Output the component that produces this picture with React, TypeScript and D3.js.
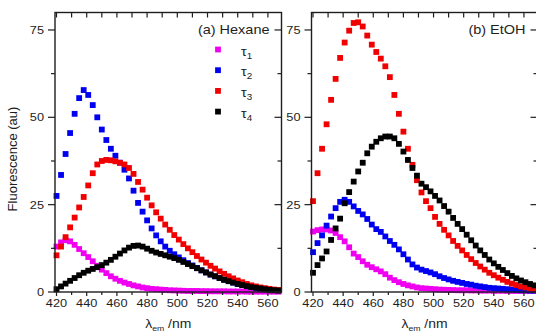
import React from 'react';
import * as d3 from 'd3';

// emission wavelengths (nm), shared by every series
const wavelengths = [420, 423, 426, 429, 432, 435, 438, 441, 444, 447, 450, 453, 456, 459, 462, 465, 468, 471, 474, 477, 480, 483, 486, 489, 492, 495, 498, 501, 504, 507, 510, 513, 516, 519, 522, 525, 528, 531, 534, 537, 540, 543, 546, 549, 552, 555, 558, 561, 564, 567];

// (a) Hexane
const hexaneTau1 = [13, 14.2, 14.8, 14.5, 13.5, 12.3, 11.1, 10, 8.8, 7.5, 6.4, 5.4, 4.5, 3.8, 3.2, 2.7, 2.3, 1.9, 1.6, 1.3, 1.1, 0.9, 0.8, 0.7, 0.6, 0.5, 0.45, 0.4, 0.35, 0.3, 0.3, 0.3, 0.25, 0.25, 0.2, 0.2, 0.2, 0.2, 0.15, 0.15, 0.15, 0.15, 0.1, 0.1, 0.1, 0.1, 0.1, 0.1, 0.1, 0.1];
const hexaneTau2 = [27.5, 33.5, 39.5, 45.5, 51, 55.5, 57.8, 56.4, 53.5, 50, 46.5, 43.5, 41, 39, 37, 35, 32.5, 29, 25.5, 23, 20.5, 18.2, 16.2, 14.5, 13, 11.8, 10.8, 9.9, 9.1, 8.3, 7.6, 6.9, 6.2, 5.6, 5, 4.5, 4, 3.5, 3.1, 2.7, 2.3, 2, 1.7, 1.4, 1.2, 1, 0.8, 0.7, 0.6, 0.5];
const hexaneTau3 = [10.5, 13, 15.7, 18.5, 21.3, 24.2, 27.2, 30.5, 34, 36.5, 37.5, 37.8, 37.7, 37.4, 37, 36.5, 35.5, 33.8, 31.5, 29.3, 27, 24.8, 22.8, 21, 19.3, 17.8, 16.3, 15, 13.7, 12.5, 11.4, 10.3, 9.3, 8.4, 7.5, 6.7, 5.9, 5.2, 4.5, 3.9, 3.3, 2.8, 2.3, 1.9, 1.6, 1.3, 1.1, 0.9, 0.7, 0.6];
const hexaneTau4 = [0.8, 1.6, 2.4, 3.2, 4, 4.8, 5.5, 6.1, 6.6, 7.1, 7.7, 8.4, 9.2, 10.1, 11, 11.9, 12.7, 13.2, 13.3, 13, 12.4, 11.8, 11.3, 10.9, 10.5, 10.1, 9.7, 9.2, 8.6, 8, 7.4, 6.8, 6.2, 5.6, 5, 4.5, 4, 3.5, 3.1, 2.7, 2.3, 2, 1.7, 1.4, 1.2, 1, 0.8, 0.6, 0.5, 0.4];

// (b) EtOH
const etohTau1 = [17.3, 17.7, 17.9, 17.9, 17.6, 16.9, 15.7, 14.5, 12.8, 11, 10, 8.8, 7.8, 7.1, 6.5, 5.9, 5.1, 4.1, 3.4, 2.8, 2.3, 1.9, 1.6, 1.3, 1.1, 1, 0.9, 0.8, 0.7, 0.65, 0.6, 0.55, 0.5, 0.5, 0.5, 0.45, 0.45, 0.4, 0.4, 0.4, 0.35, 0.35, 0.35, 0.3, 0.3, 0.3, 0.3, 0.3, 0.3, 0.3];
const etohTau2 = [11.4, 14, 16.2, 19, 21.6, 24, 25.8, 26.4, 25.8, 24.5, 23.2, 22.2, 20.9, 19.3, 18, 17.2, 15.9, 14.6, 13.5, 12.2, 10.8, 9.3, 7.9, 7, 6.4, 6, 5.6, 5.1, 4.5, 4, 3.6, 3.2, 2.9, 2.6, 2.3, 2.1, 1.8, 1.6, 1.4, 1.2, 1.1, 1, 0.9, 0.8, 0.7, 0.6, 0.5, 0.5, 0.4, 0.4];
const etohTau3 = [26, 34, 41, 48, 55, 61, 67, 71.4, 74.8, 77, 77.2, 76, 73.4, 70.8, 68.7, 66.8, 64.6, 61.5, 56.4, 51, 45.9, 41, 36.4, 32, 28.5, 26, 24, 21.5, 19.5, 17.8, 16.2, 14.6, 13.2, 11.9, 10.6, 9.4, 8.3, 7.3, 6.4, 5.5, 4.8, 4.1, 3.5, 2.9, 2.4, 2, 1.6, 1.3, 1, 0.8];
const etohTau4 = [5.5, 7.7, 9.6, 11.6, 14.9, 18.2, 21, 25.4, 28.6, 31.6, 34.5, 37, 39.7, 41.6, 43, 44, 44.5, 44.5, 44, 42.4, 40.2, 37.8, 35.5, 33.3, 31, 30, 28.8, 27.5, 26.2, 24.6, 23, 21.2, 19.5, 18, 16.4, 14.8, 13.3, 11.9, 10.6, 9.3, 8.2, 7.2, 6.3, 5.4, 4.6, 3.9, 3.3, 2.8, 2.3, 1.9];

const legendSubs = ['1', '2', '3', '4'];
const seriesColors = ['#f000f0', '#0000f0', '#f00000', '#000000'];

const xMajorTicks = [420, 440, 460, 480, 500, 520, 540, 560];
const xMinorTicks = [430, 450, 470, 490, 510, 530, 550];
const yMajorTicks = [0, 25, 50, 75];
const yMinorTicks = [12.5, 37.5, 62.5];

const FONT = '"Liberation Sans", Arial, sans-serif';
const INK = '#1e1e1e';
const SX = 1.16; // the source text is slightly wide

const T = ({ x, y, size, anchor = 'start', children }: any) => (
  <text
    transform={`translate(${x},${y}) scale(${SX},1)`}
    fontSize={size}
    textAnchor={anchor}
    fontFamily={FONT}
    fill={INK}
  >
    {children}
  </text>
);

const TOP = 12.5;
const BOTTOM = 292;

function Panel({ left, right, title, series, legend }: any) {
  const x = d3.scaleLinear().domain([419, 569]).range([left, right]);
  const y = d3.scaleLinear().domain([0, 80]).range([BOTTOM, TOP]);
  const ms = 5.8;
  const cx = (left + right) / 2;

  return (
    <g>
      {/* markers */}
      {series.map((vals: number[], si: number) => (
        <g key={si} fill={seriesColors[si]}>
          {vals.map((v, i) => (
            <rect key={i} x={x(wavelengths[i]) - ms / 2} y={y(v) - ms / 2} width={ms} height={ms} />
          ))}
        </g>
      ))}

      {/* frame */}
      <rect x={left} y={TOP} width={right - left} height={BOTTOM - TOP} fill="none" stroke={INK} strokeWidth={1.4} />

      {/* x ticks: top inward, bottom outward */}
      {[...xMajorTicks, ...xMinorTicks].map(t => (
        <g key={'xt' + t} stroke={INK} strokeWidth={1.2}>
          <line x1={x(t)} x2={x(t)} y1={TOP} y2={TOP + 5} />
          <line x1={x(t)} x2={x(t)} y1={BOTTOM} y2={BOTTOM + (xMajorTicks.includes(t) ? 4 : 3)} />
        </g>
      ))}
      {xMajorTicks.map(t => (
        <T key={'xl' + t} x={x(t)} y={307} size={11} anchor="middle">{t}</T>
      ))}

      {/* y ticks: left outward, right inward */}
      {yMajorTicks.map(t => (
        <g key={'ym' + t} stroke={INK} strokeWidth={1.2}>
          <line x1={left - 7} x2={left} y1={y(t)} y2={y(t)} />
          <line x1={right - 7} x2={right} y1={y(t)} y2={y(t)} />
        </g>
      ))}
      {yMinorTicks.map(t => (
        <g key={'yn' + t} stroke={INK} strokeWidth={1.2}>
          <line x1={left - 4} x2={left} y1={y(t)} y2={y(t)} />
          <line x1={right - 4} x2={right} y1={y(t)} y2={y(t)} />
        </g>
      ))}
      {yMajorTicks.map(t => (
        <T key={'yl' + t} x={left - 11} y={y(t) + 4} size={11} anchor="end">{t}</T>
      ))}

      {/* panel title */}
      <T x={right - 12} y={34} size={12.5} anchor="end">{title}</T>

      {/* legend */}
      {legend &&
        legendSubs.map((s, i) => {
          const ly = 49.5 + i * 20.7;
          return (
            <g key={'lg' + i}>
              <rect x={218 - ms / 2} y={ly - ms / 2} width={ms} height={ms} fill={seriesColors[i]} />
              <T x={241} y={ly + 6} size={12.5}>
                τ<tspan fontSize={8.5} dy={3}>{s}</tspan>
              </T>
            </g>
          );
        })}

      {/* x title */}
      <T x={cx} y={328} size={12} anchor="middle">
        λ<tspan fontSize={7.5} dy={3}>em</tspan>
        <tspan dy={-3}> /nm</tspan>
      </T>
    </g>
  );
}

export default function App() {
  return (
    <svg
      width={536}
      height={335}
      style={{ position: 'absolute', left: 0, top: 0, background: '#fff' }}
    >
      <rect width={536} height={335} fill="#fff" />
      <text
        transform="translate(17,159) rotate(-90)"
        fontSize={13}
        textAnchor="middle"
        fontFamily={FONT}
        fill={INK}
      >
        Fluorescence (au)
      </text>
      <Panel
        left={55}
        right={281.5}
        title="(a) Hexane"
        series={[hexaneTau1, hexaneTau2, hexaneTau3, hexaneTau4]}
        legend
      />
      <Panel
        left={311.5}
        right={537.5}
        title="(b) EtOH"
        series={[etohTau1, etohTau2, etohTau3, etohTau4]}
      />
    </svg>
  );
}
